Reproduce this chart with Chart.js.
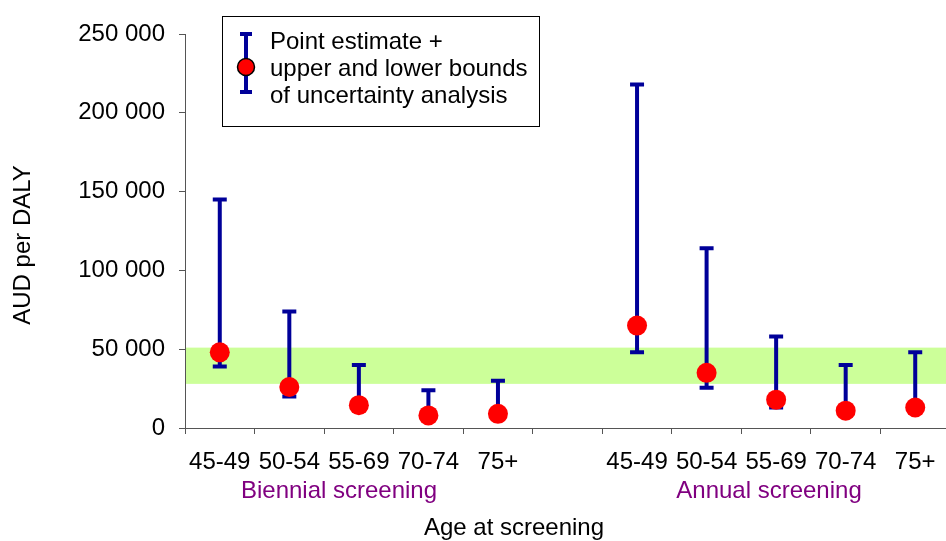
<!DOCTYPE html>
<html>
<head>
<meta charset="utf-8">
<script src="https://cdn.jsdelivr.net/npm/chart.js@4"></script>
<style>
  html, body { margin: 0; padding: 0; background: #fff; overflow: hidden; }
  #wrap { width: 960px; height: 541px; }
</style>
</head>
<body>
<div id="wrap"><canvas id="chart" width="960" height="541"></canvas></div>
<script>
// categories (6th slot is the empty gap between the two groups)
const ageGroups = ['45-49', '50-54', '55-69', '70-74', '75+', '', '45-49', '50-54', '55-69', '70-74', '75+'];
const pointEstimate = [48000, 26000, 14500, 8000, 9000, null, 65000, 35000, 18000, 11000, 13000];
const upperBound = [145000, 74000, 40000, 24000, 30000, null, 218000, 114000, 58000, 40000, 48000];
const lowerBound = [39000, 20000, 13000, 7000, 8000, null, 48000, 25500, 13000, 9500, 11500];
const thresholdBand = [28000, 51000];
const groupNames = ['Biennial screening', 'Annual screening'];
const yTicks = [0, 50000, 100000, 150000, 200000, 250000];

const FONT = 'Arial, "Liberation Sans", sans-serif';
const NAVY = '#000099';

function fmt(v) {
  return String(v).replace(/\B(?=(\d{3})+(?!\d))/g, ' ');
}

const decorations = {
  id: 'decorations',
  beforeDatasetsDraw(chart) {
    const { ctx, chartArea, scales: { x, y } } = chart;
    ctx.save();
    // green band
    const yTop = y.getPixelForValue(thresholdBand[1]);
    const yBot = y.getPixelForValue(thresholdBand[0]);
    ctx.fillStyle = '#ccff99';
    ctx.fillRect(chartArea.left + 1, yTop, chartArea.right - chartArea.left, yBot - yTop);

    // error bars
    ctx.strokeStyle = NAVY;
    ctx.lineWidth = 4;
    ctx.lineCap = 'butt';
    for (let i = 0; i < ageGroups.length; i++) {
      if (upperBound[i] == null) continue;
      const px = x.getPixelForValue(i);
      const yu = y.getPixelForValue(upperBound[i]);
      const yl = y.getPixelForValue(lowerBound[i]);
      ctx.beginPath();
      ctx.moveTo(px, yu);
      ctx.lineTo(px, yl);
      ctx.moveTo(px - 7, yu);
      ctx.lineTo(px + 7, yu);
      ctx.moveTo(px - 7, yl);
      ctx.lineTo(px + 7, yl);
      ctx.stroke();
    }
    ctx.restore();
  },
  afterDraw(chart) {
    const { ctx } = chart;
    ctx.save();
    // group labels
    ctx.font = '24px ' + FONT;
    ctx.fillStyle = '#800080';
    ctx.textAlign = 'center';
    ctx.textBaseline = 'middle';
    ctx.fillText(groupNames[0], 339, 491);
    ctx.fillText(groupNames[1], 769, 491);

    // axis titles
    ctx.fillStyle = '#000';
    ctx.fillText('Age at screening', 514, 528);
    ctx.save();
    ctx.translate(23, 245);
    ctx.rotate(-Math.PI / 2);
    ctx.fillText('AUD per DALY', 0, 0);
    ctx.restore();

    // legend box
    ctx.fillStyle = '#fff';
    ctx.fillRect(222, 16, 317, 110);
    ctx.strokeStyle = '#000';
    ctx.lineWidth = 1;
    ctx.strokeRect(222.5, 16.5, 317, 110);

    ctx.strokeStyle = NAVY;
    ctx.lineWidth = 4;
    ctx.beginPath();
    ctx.moveTo(246, 34); ctx.lineTo(246, 92);
    ctx.moveTo(240, 34); ctx.lineTo(252, 34);
    ctx.moveTo(240, 92); ctx.lineTo(252, 92);
    ctx.stroke();
    ctx.beginPath();
    ctx.arc(246, 67, 8.5, 0, Math.PI * 2);
    ctx.fillStyle = '#ff0000';
    ctx.fill();
    ctx.strokeStyle = '#000';
    ctx.lineWidth = 1.5;
    ctx.stroke();

    ctx.fillStyle = '#000';
    ctx.textAlign = 'left';
    ctx.font = '24px ' + FONT;
    ctx.fillText('Point estimate +', 270, 42);
    ctx.fillText('upper and lower bounds', 270, 69);
    ctx.fillText('of uncertainty analysis', 270, 96);
    ctx.restore();
  }
};

new Chart(document.getElementById('chart'), {
  type: 'line',
  data: {
    labels: ageGroups,
    datasets: [{
      label: 'Point estimate',
      data: pointEstimate,
      showLine: false,
      pointRadius: 10,
      pointHoverRadius: 10,
      pointBackgroundColor: '#ff0000',
      pointBorderWidth: 0,
      borderColor: '#ff0000'
    }]
  },
  options: {
    responsive: false,
    animation: false,
    layout: { padding: { left: 0, top: 34, right: 5, bottom: 0 } },
    plugins: {
      legend: { display: false },
      tooltip: { enabled: false }
    },
    scales: {
      x: {
        offset: true,
        grid: { offset: true, drawOnChartArea: false, drawTicks: true, tickLength: 6, color: '#555' },
        border: { color: '#555', width: 1 },
        ticks: {
          autoSkip: false,
          maxRotation: 0,
          color: '#000',
          padding: 14,
          font: { family: FONT, size: 24 }
        },
        afterFit(scale) { scale.height = 113; }
      },
      y: {
        min: 0,
        max: 250000,
        afterBuildTicks(scale) { scale.ticks = yTicks.map(v => ({ value: v })); },
        grid: { drawOnChartArea: false, drawTicks: true, tickLength: 6, color: '#555' },
        border: { color: '#555', width: 1 },
        ticks: {
          color: '#000',
          padding: 14,
          font: { family: FONT, size: 24 },
          callback: v => fmt(v)
        },
        afterFit(scale) { scale.width = 185; }
      }
    }
  },
  plugins: [decorations]
});
</script>
</body>
</html>
